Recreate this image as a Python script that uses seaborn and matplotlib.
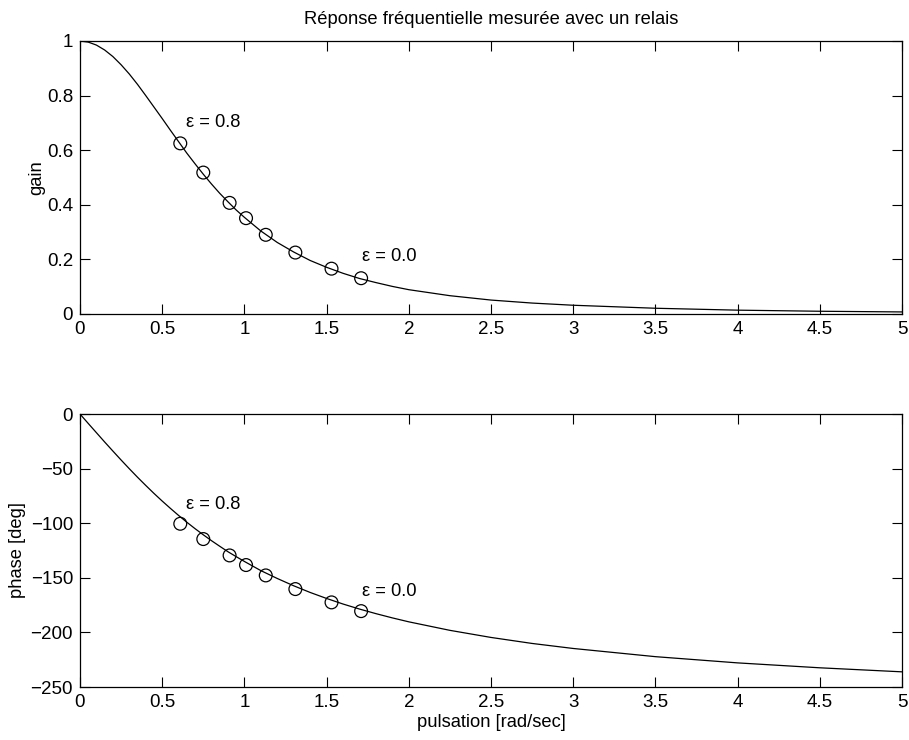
import matplotlib
matplotlib.use("Agg")
import matplotlib.pyplot as plt
import seaborn as sns
import pandas as pd

# Curve
w_curve = [0.0, 0.05, 0.1, 0.15, 0.2, 0.25, 0.3, 0.35, 0.4, 0.45, 0.5, 0.55, 0.6, 0.65,
           0.7, 0.75, 0.8, 0.85, 0.9, 0.95, 1.0, 1.1, 1.2, 1.3, 1.4, 1.5, 1.6, 1.7, 1.8,
           1.9, 2.0, 2.25, 2.5, 2.75, 3.0, 3.5, 4.0, 4.5, 5.0]
gain_curve = [1.0, 0.996, 0.985, 0.967, 0.943, 0.913, 0.879, 0.841, 0.800, 0.758,
              0.716, 0.673, 0.631, 0.589, 0.550, 0.512, 0.476, 0.442, 0.411, 0.381,
              0.354, 0.304, 0.262, 0.227, 0.196, 0.171, 0.149, 0.130, 0.115, 0.101,
              0.089, 0.067, 0.051, 0.040, 0.032, 0.021, 0.014, 0.010, 0.0075]
phase_curve = [0.0, -8.6, -17.1, -25.6, -33.9, -42.1, -50.1, -57.9, -65.4, -72.7,
               -79.7, -86.4, -92.9, -99.1, -105.0, -110.6, -116.0, -121.1, -126.1, -130.6,
               -135.0, -143.4, -150.6, -157.3, -163.4, -168.9, -174.0, -178.6, -182.8,
               -186.7, -190.3, -198.1, -204.6, -210.1, -214.7, -222.2, -227.9, -232.4, -236.1]

# Measured points (relay)
w_meas = [0.61, 0.75, 0.91, 1.01, 1.13, 1.31, 1.53, 1.71]
gain_meas = [0.625, 0.518, 0.407, 0.351, 0.290, 0.225, 0.166, 0.131]
phase_meas = [-100.5, -114.5, -129.5, -138.3, -147.8, -160.3, -172.5, -180.5]

x_ticks = [0, 0.5, 1, 1.5, 2, 2.5, 3, 3.5, 4, 4.5, 5]
x_labels = ["0", "0.5", "1", "1.5", "2", "2.5", "3", "3.5", "4", "4.5", "5"]
gain_ticks = [0, 0.2, 0.4, 0.6, 0.8, 1]
gain_labels = ["0", "0.2", "0.4", "0.6", "0.8", "1"]
phase_ticks = [-250, -200, -150, -100, -50, 0]
phase_labels = ["\u2212250", "\u2212200", "\u2212150", "\u2212100", "\u221250", "0"]

sns.set_style("ticks")
plt.rcParams['font.family'] = ['Liberation Sans', 'DejaVu Sans']
plt.rcParams['text.color'] = 'black'
plt.rcParams['axes.labelcolor'] = 'black'
plt.rcParams['xtick.color'] = 'black'
plt.rcParams['ytick.color'] = 'black'

curve = pd.DataFrame({"w": w_curve, "gain": gain_curve, "phase": phase_curve})
meas = pd.DataFrame({"w": w_meas, "gain": gain_meas, "phase": phase_meas})

fig = plt.figure(figsize=(9.09, 7.40), dpi=100)
ax1 = fig.add_axes([0.088, 0.5757, 0.9043, 0.3689])
ax2 = fig.add_axes([0.088, 0.0716, 0.9043, 0.3689])

fs = 13.5
fl = 13.2
for ax, col, ticks, labels, ylim, ylab, lp in [
        (ax1, "gain", gain_ticks, gain_labels, (0, 1), "gain", 1),
        (ax2, "phase", phase_ticks, phase_labels, (-250, 0), "phase [deg]", 3)]:
    sns.lineplot(data=curve, x="w", y=col, ax=ax, color="black", linewidth=0.9,
                 sort=False, estimator=None)
    sns.scatterplot(data=meas, x="w", y=col, ax=ax, marker="o", s=85,
                    facecolor="none", edgecolor="black", linewidth=0.9, zorder=3)
    ax.set_xlim(0, 5)
    ax.set_ylim(*ylim)
    ax.set_xticks(x_ticks)
    ax.set_xticklabels(x_labels, fontsize=fs, color="black")
    ax.set_yticks(ticks)
    ax.set_yticklabels(labels, fontsize=fs, color="black")
    ax.set_ylabel(ylab, fontsize=fl, labelpad=lp, color="black")
    ax.set_xlabel("")
    ax.tick_params(direction="in", top=True, right=True, length=7, width=0.8,
                   pad=5, colors="black")
    for s in ax.spines.values():
        s.set_visible(True)
        s.set_linewidth(0.9)
        s.set_color("black")

ax1.text(0.645, 0.70, "\u03b5 = 0.8", fontsize=fl, va="center", ha="left", color="black")
ax1.text(1.715, 0.21, "\u03b5 = 0.0", fontsize=fl, va="center", ha="left", color="black")
ax2.text(0.645, -83.3, "\u03b5 = 0.8", fontsize=fl, va="center", ha="left", color="black")
ax2.text(1.715, -162.7, "\u03b5 = 0.0", fontsize=fl, va="center", ha="left", color="black")

ax1.set_title("R\u00e9ponse fr\u00e9quentielle mesur\u00e9e avec un relais", fontsize=fl,
              pad=12, color="black")
ax2.set_xlabel("pulsation [rad/sec]", fontsize=fl, labelpad=2, color="black")

fig.savefig("out.png", dpi=100, facecolor="white")
